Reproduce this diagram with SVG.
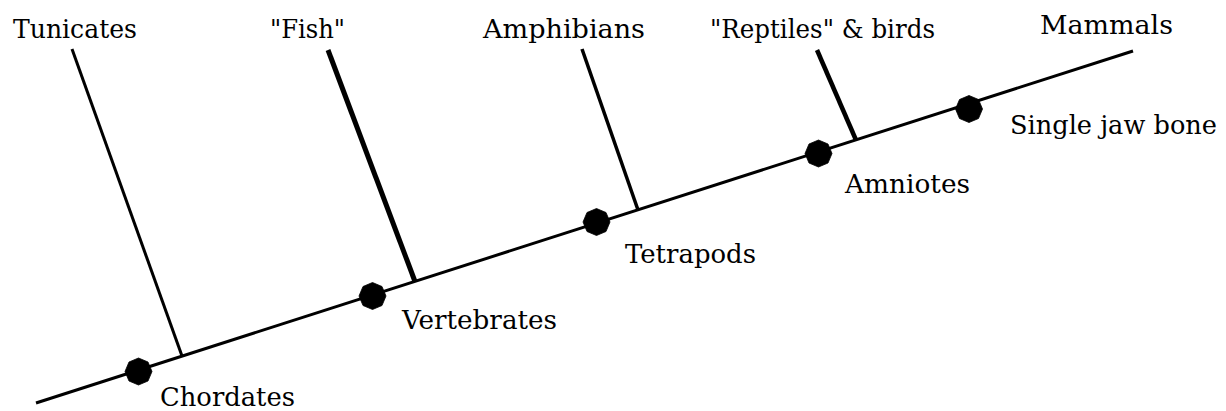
<svg xmlns="http://www.w3.org/2000/svg" xmlns:xlink="http://www.w3.org/1999/xlink" width="1226" height="411" viewBox="0 0 1226 411">
  <style>
    .lbl { font-family: 'DejaVu Serif', 'Liberation Serif', serif; font-size: 26px; fill: #000; }
    .ln { stroke: #000; stroke-linecap: butt; fill: none; }
    .dot { fill: #000; stroke: #000; stroke-width: 0.8; }
  </style>
  <defs>
    <polygon id="oct" points="13.5,0 9.5,9.5 0,13.5 -9.5,9.5 -13.5,0 -9.5,-9.5 0,-13.5 9.5,-9.5"/>
  </defs>
  <rect width="1226" height="411" fill="#fff"/>

  <g id="connectors">
    <line class="ln" x1="36" y1="403" x2="1133" y2="51" stroke-width="3"/>
    <line class="ln" x1="72" y1="49" x2="182" y2="356" stroke-width="3"/>
    <line class="ln" x1="328" y1="50" x2="415" y2="281.5" stroke-width="5"/>
    <line class="ln" x1="582" y1="49" x2="638" y2="210" stroke-width="3.5"/>
    <line class="ln" x1="817" y1="50" x2="856" y2="140" stroke-width="4.5"/>
  </g>

  <g id="tunicates"><text class="lbl" x="13" y="38" textLength="124" lengthAdjust="spacingAndGlyphs">Tunicates</text></g>
  <g id="fish"><text class="lbl" x="270" y="38" textLength="75" lengthAdjust="spacingAndGlyphs">"Fish"</text></g>
  <g id="amphibians"><text class="lbl" x="483" y="37.5" textLength="162" lengthAdjust="spacingAndGlyphs">Amphibians</text></g>
  <g id="reptiles-birds"><text class="lbl" x="710" y="38" textLength="225" lengthAdjust="spacingAndGlyphs">"Reptiles" &amp; birds</text></g>
  <g id="mammals"><text class="lbl" x="1040" y="34" textLength="133" lengthAdjust="spacingAndGlyphs">Mammals</text></g>

  <g id="chordates">
    <use xlink:href="#oct" class="dot" x="138.5" y="371.5"/>
    <text class="lbl" x="160" y="406" textLength="135" lengthAdjust="spacingAndGlyphs">Chordates</text>
  </g>
  <g id="vertebrates">
    <use xlink:href="#oct" class="dot" x="372.5" y="296"/>
    <text class="lbl" x="402" y="329" textLength="155" lengthAdjust="spacingAndGlyphs">Vertebrates</text>
  </g>
  <g id="tetrapods">
    <use xlink:href="#oct" class="dot" x="596.5" y="222"/>
    <text class="lbl" x="625" y="263" textLength="131" lengthAdjust="spacingAndGlyphs">Tetrapods</text>
  </g>
  <g id="amniotes">
    <use xlink:href="#oct" class="dot" x="818.5" y="153.5"/>
    <text class="lbl" x="845" y="193" textLength="125" lengthAdjust="spacingAndGlyphs">Amniotes</text>
  </g>
  <g id="single-jaw-bone">
    <use xlink:href="#oct" class="dot" x="969" y="109"/>
    <text class="lbl" x="1010" y="134" textLength="207" lengthAdjust="spacingAndGlyphs">Single jaw bone</text>
  </g>
</svg>
